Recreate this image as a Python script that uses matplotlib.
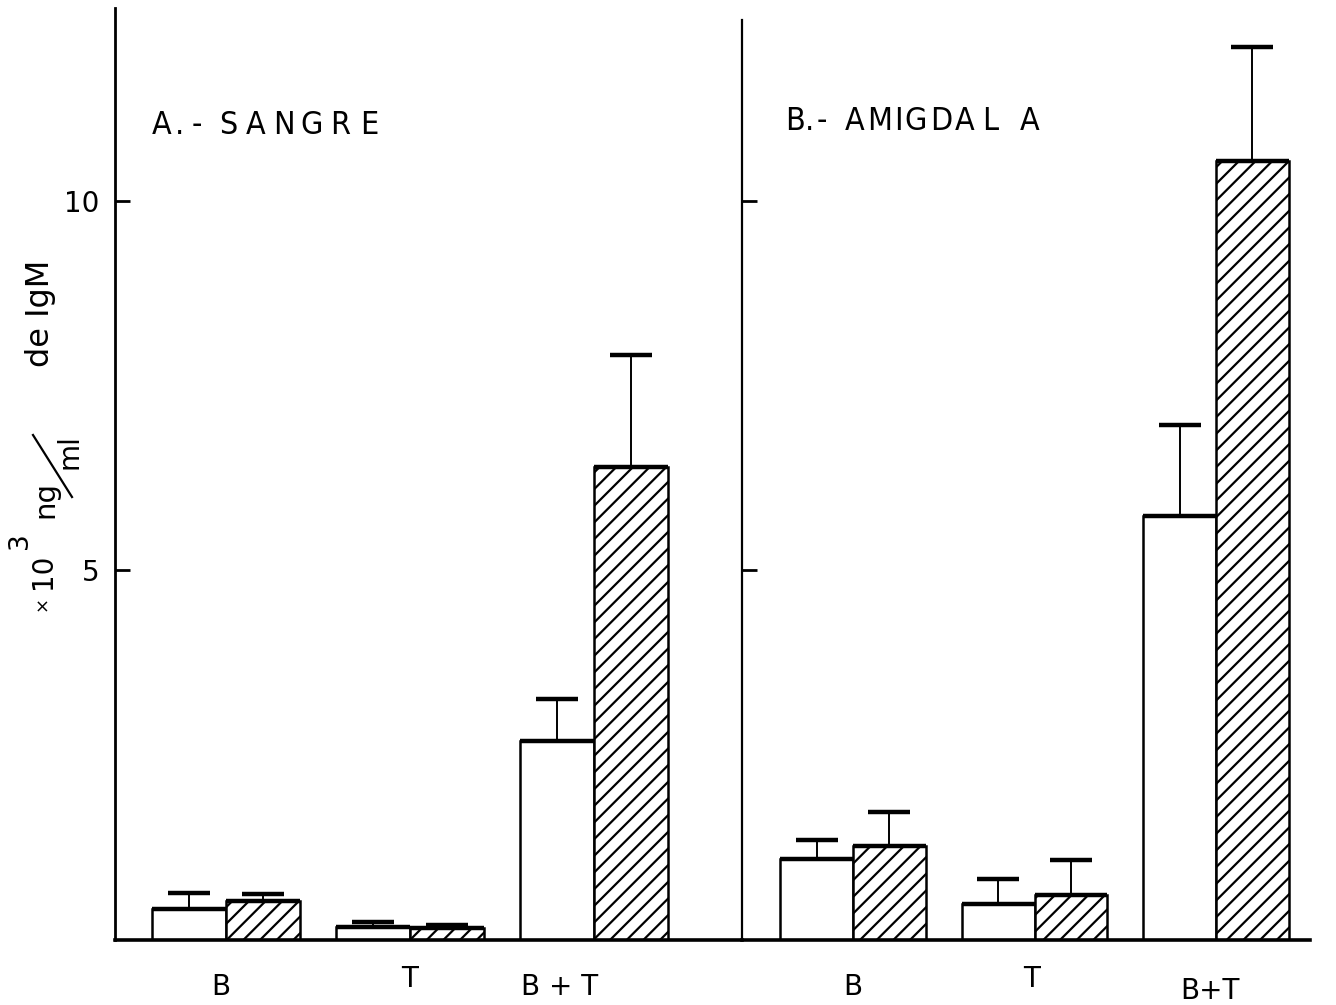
import numpy as np
import matplotlib
matplotlib.use("Agg")
import matplotlib.pyplot as plt
from matplotlib.lines import Line2D
from matplotlib.transforms import ScaledTranslation

# ---- data (x10^3 ng/ml de IgM) ----
groups_a = ["B", "T", "B + T"]
groups_b = ["B", "T", "B+T"]

# A.- SANGRE
sangre_open = [0.42, 0.18, 2.69]
sangre_open_err = [0.64, 0.24, 3.26]      # upper end of error bar
sangre_hatched = [0.53, 0.16, 6.40]
sangre_hatched_err = [0.62, 0.20, 7.92]

# B.- AMIGDALA
amig_open = [1.10, 0.49, 5.74]
amig_open_err = [1.35, 0.83, 6.97]
amig_hatched = [1.27, 0.61, 10.54]
amig_hatched_err = [1.73, 1.08, 12.08]

yticks = [5, 10]

# ---- figure ----
W, H, DPI = 1336, 1005, 100
plt.rcParams["hatch.linewidth"] = 1.6
plt.rcParams["font.family"] = ["DejaVu Sans"]
fig = plt.figure(figsize=(W / DPI, H / DPI), dpi=DPI)


def fx(px):
    return px / W


def fy(py):
    return 1 - py / H


base_px, top_px = 940, 8
ymax = 12.61
ax_a = fig.add_axes([fx(115), fy(base_px), fx(742 - 115), (base_px - top_px) / H])
ax_b = fig.add_axes([fx(742), fy(base_px), fx(1310 - 742), (base_px - top_px) / H])

bar_w = 0.40


def draw_panel(ax, labels, open_v, open_e, hat_v, hat_e, xlim):
    x = np.arange(len(labels))
    xo = x - bar_w / 2
    xh = x + bar_w / 2
    ax.bar(xo, open_v, bar_w, facecolor="white", edgecolor="black", linewidth=1.8, zorder=2)
    ax.bar(xh, hat_v, bar_w, facecolor="white", edgecolor="black", linewidth=1.8,
           hatch="//", zorder=2)
    # heavier top edges
    ax.hlines(open_v, xo - bar_w / 2, xo + bar_w / 2, color="black", lw=3.2, zorder=3)
    ax.hlines(hat_v, xh - bar_w / 2, xh + bar_w / 2, color="black", lw=3.2, zorder=3)
    # upper error bars with caps
    for xc, v, e in ((xo, open_v, open_e), (xh, hat_v, hat_e)):
        ax.vlines(xc, v, e, color="black", lw=1.4, zorder=3)
        ax.plot(xc, e, linestyle="none", marker="_", markersize=30,
                markeredgewidth=3.2, color="black", zorder=3)
    ax.set_xlim(*xlim)
    ax.set_ylim(0, ymax)
    ax.set_xticks(x)
    ax.set_xticklabels(labels, fontsize=20)
    ax.tick_params(axis="x", length=0, pad=24)
    for s in ("top", "right"):
        ax.spines[s].set_visible(False)
    ax.spines["bottom"].set_linewidth(2.6)
    ax.spines["left"].set_linewidth(2.0)
    ax.set_yticks(yticks)
    ax.tick_params(axis="y", direction="in", length=11, width=2, labelsize=20, pad=11)
    ax.patch.set_alpha(0)


draw_panel(ax_a, groups_a, sangre_open, sangre_open_err, sangre_hatched,
           sangre_hatched_err, (-0.603, 2.804))
draw_panel(ax_b, groups_b, amig_open, amig_open_err, amig_hatched,
           amig_hatched_err, (-0.612, 2.518))
ax_b.set_yticklabels([])
ax_b.spines["left"].set_bounds(0, 12.45)
ax_b.spines["left"].set_linewidth(1.6)

# hand-lettered group labels sit a little off-centre
def nudge(label, dx_px, dy_px):
    label.set_transform(label.get_transform() +
                        ScaledTranslation(dx_px / DPI, -dy_px / DPI, fig.dpi_scale_trans))


nudge(ax_a.get_xticklabels()[0], -5, 0)
nudge(ax_a.get_xticklabels()[1], 0, -8)
nudge(ax_a.get_xticklabels()[2], -34, 0)
nudge(ax_b.get_xticklabels()[1], -3, -8)
nudge(ax_b.get_xticklabels()[2], -6, 4)

# ---- panel titles, widely spaced lettering ----
title_kw = dict(fontsize=23, ha="center", va="center", color="black",
                fontstretch="condensed")
title_a = "A.-SANGRE"
title_a_x = [162, 180, 197, 228, 256, 284, 312, 340, 369]
for ch, px in zip(title_a, title_a_x):
    fig.text(fx(px), fy(125), ch, **title_kw)
title_b = "B.-AMIGDALA"
title_b_x = [795, 809, 822, 855, 880, 898, 916, 941, 965, 990, 1030]
for ch, px in zip(title_b, title_b_x):
    fig.text(fx(px), fy(122), ch, **title_kw)

# ---- y-axis label: x10^3 ng/ml  de IgM ----
lab_kw = dict(rotation=90, ha="center", va="center", color="black")
fig.text(fx(42), fy(603), "×", fontsize=13, **lab_kw)
fig.text(fx(43), fy(571), "10", fontsize=20, **lab_kw)
fig.text(fx(20), fy(541), "3", fontsize=19, **lab_kw)
fig.text(fx(45), fy(500), "ng", fontsize=21, **lab_kw)
fig.text(fx(70), fy(452), "ml", fontsize=20, **lab_kw)
fig.add_artist(Line2D([fx(33), fx(72)], [fy(435), fy(497)], color="black", lw=1.6,
                      transform=fig.transFigure))
fig.text(fx(40), fy(313), "de IgM", fontsize=23, **lab_kw)

fig.savefig("out.png", dpi=DPI)
